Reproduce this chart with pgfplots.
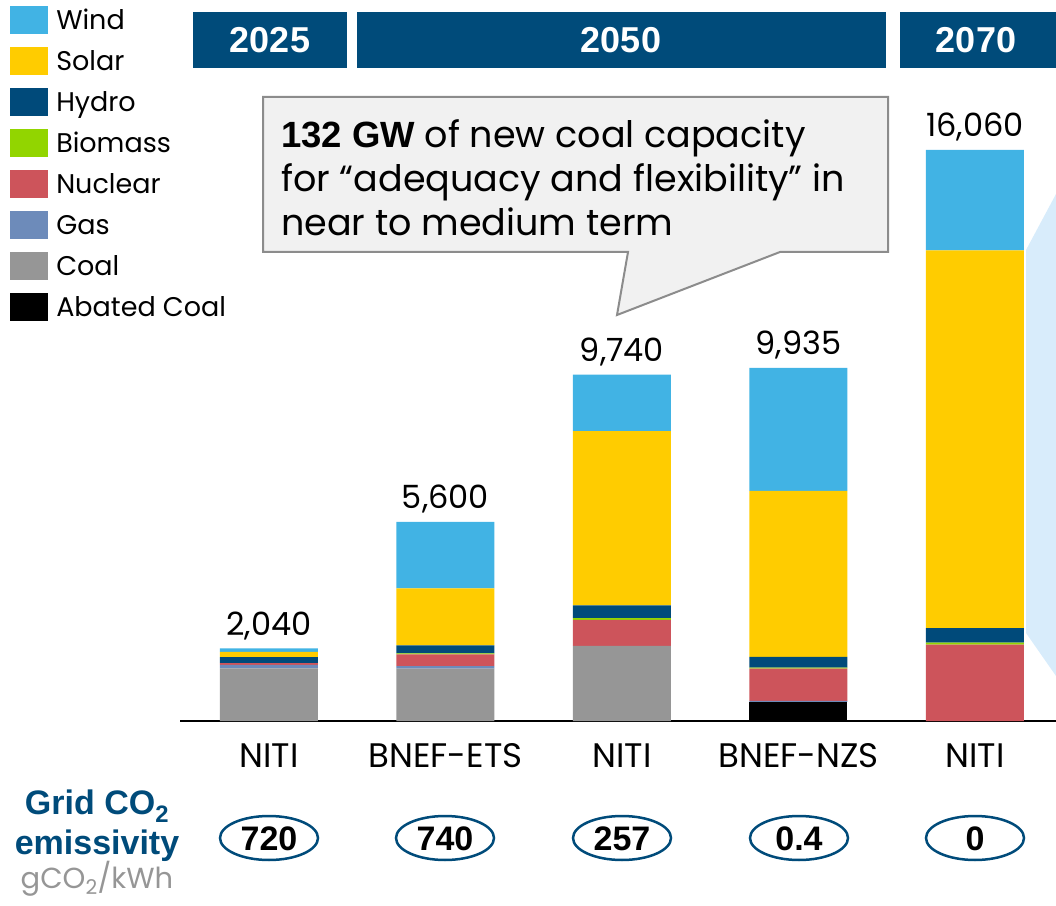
\documentclass[border=0pt]{standalone}
\usepackage{pgfplots}
\pgfplotsset{compat=1.18}
\usepackage{pgfplotstable}
\usepackage{fontspec}
\setmainfont{Poppins}
\newfontfamily\arial{Liberation Sans}

\definecolor{wind}{HTML}{41B3E4}
\definecolor{solar}{HTML}{FFCC00}
\definecolor{hydro}{HTML}{004A7A}
\definecolor{biomass}{HTML}{92D500}
\definecolor{nuclear}{HTML}{CD545B}
\definecolor{gas}{HTML}{6D8BBA}
\definecolor{coal}{HTML}{969696}
\definecolor{abated}{HTML}{000000}
\definecolor{hdr}{HTML}{004B7A}
\definecolor{callfill}{HTML}{F1F1F1}
\definecolor{callline}{HTML}{8C8C8C}
\definecolor{ltblue}{HTML}{D8ECFB}

% generation by source, bottom to top of each bar
\pgfplotstableread{
x abated coal gas nuclear biomass hydro solar wind
0 0   1480 100 45   0  170 150   95
1 0   1475 70  330  30 225 1600  1870
2 0   2110 0   735  45 360 4900  1590
3 538 0    25  910  28 306 4668  3460
4 0   0    0   2145 56 413 10626 2820
}\mix

\pgfplotsset{seg/.style={fill=#1, draw=none,
    legend image code/.code={\fill[#1] (0pt,-14pt) rectangle (38pt,14pt);}}}

\begin{document}
\begin{tikzpicture}[x=1pt,y=1pt]
\path[use as bounding box] (0,0) rectangle (1056,905);

% light blue wedge at right edge
\fill[ltblue] (1026,655) -- (1056,711) -- (1056,229) -- (1026,272) -- cycle;

\begin{axis}[
    at={(180pt,184pt)}, anchor=south west,
    scale only axis, width=876pt, height=571pt,
    xmin=-0.504, xmax=4.459, ymin=0, ymax=16060,
    clip=false,
    ybar stacked, bar width=98pt,
    axis x line*=bottom, axis y line=none,
    x axis line style={line width=2pt},
    xtick={0,...,4},
    xticklabels={NITI,BNEF-ETS,NITI,BNEF-NZS,NITI},
    major tick length=0pt,
    xticklabel style={font=\fontsize{34}{38}\selectfont, anchor=base, yshift=-46pt},
    ytick=\empty,
    reverse legend,
    legend style={at={(-0.194,1.252)}, anchor=north west, draw=none, fill=none,
        inner sep=0pt, row sep=13pt, font=\fontsize{27}{30}\selectfont,
        cells={anchor=west},
        /tikz/every odd column/.append style={column sep=6pt}},
]
\addplot[seg=abated]  table[x=x,y=abated]{\mix};
\addplot[seg=coal]    table[x=x,y=coal]{\mix};
\addplot[seg=gas]     table[x=x,y=gas]{\mix};
\addplot[seg=nuclear] table[x=x,y=nuclear]{\mix};
\addplot[seg=biomass] table[x=x,y=biomass]{\mix};
\addplot[seg=hydro]   table[x=x,y=hydro]{\mix};
\addplot[seg=solar]   table[x=x,y=solar]{\mix};
\addplot[seg=wind]    table[x=x,y=wind]{\mix};
\legend{Abated Coal,Coal,Gas,Nuclear,Biomass,Hydro,Solar,Wind}

\foreach \xx/\tot/\lab in {0/2040/{2,040},1/5600/{5,600},2/9740/{9,740},3/9935/{9,935},4/16060/{16,060}}{
  \edef\temp{\noexpand\node[font=\noexpand\fontsize{32}{35}\noexpand\selectfont, anchor=base, yshift=13pt]
     at (axis cs:\xx,\tot) {\lab};}
  \temp
}
\end{axis}

% period headers
\fill[hdr] (193,893) rectangle (347,837);
\fill[hdr] (357,893) rectangle (886,837);
\fill[hdr] (900,893) rectangle (1056,837);
\begin{scope}[every node/.style={text=white, font=\arial\bfseries\fontsize{36}{40}\selectfont, anchor=base}]
\node at (270,852) {2025};
\node at (621,852) {2050};
\node at (976,852) {2070};
\end{scope}

% callout
\filldraw[fill=callfill, draw=callline, line width=2pt, line join=miter]
  (263,808) -- (888,808) -- (888,653) -- (780,653) -- (617,590) -- (628,653) -- (263,653) -- cycle;
\begin{scope}[every node/.style={anchor=base west, inner sep=0pt, font=\fontsize{36.5}{40}\selectfont}]
\node at (281,757) {{\arial\bfseries 132 GW} of new coal capacity};
\node at (281,713) {for “adequacy and flexibility” in};
\node at (281,669) {near to medium term};
\end{scope}

% emissivity row
\node[anchor=base, text=hdr, font=\arial\bfseries\fontsize{34}{38}\selectfont] at (97,91) {Grid CO\textsubscript{2}};
\node[anchor=base, text=hdr, font=\arial\bfseries\fontsize{34}{38}\selectfont] at (97,51) {emissivity};
\node[anchor=base, text=coal, font=\fontsize{29}{32}\selectfont] at (97,17) {gCO\textsubscript{2}/kWh};

\foreach \xp/\v in {269/720,445/740,622/257,799/0.4,975/0}{
  \draw[hdr, line width=2.5pt, fill=white] (\xp,67) ellipse [x radius=49, y radius=22];
  \node[anchor=base, font=\arial\bfseries\fontsize{34}{38}\selectfont] at (\xp,55) {\v};
}
\end{tikzpicture}
\end{document}
